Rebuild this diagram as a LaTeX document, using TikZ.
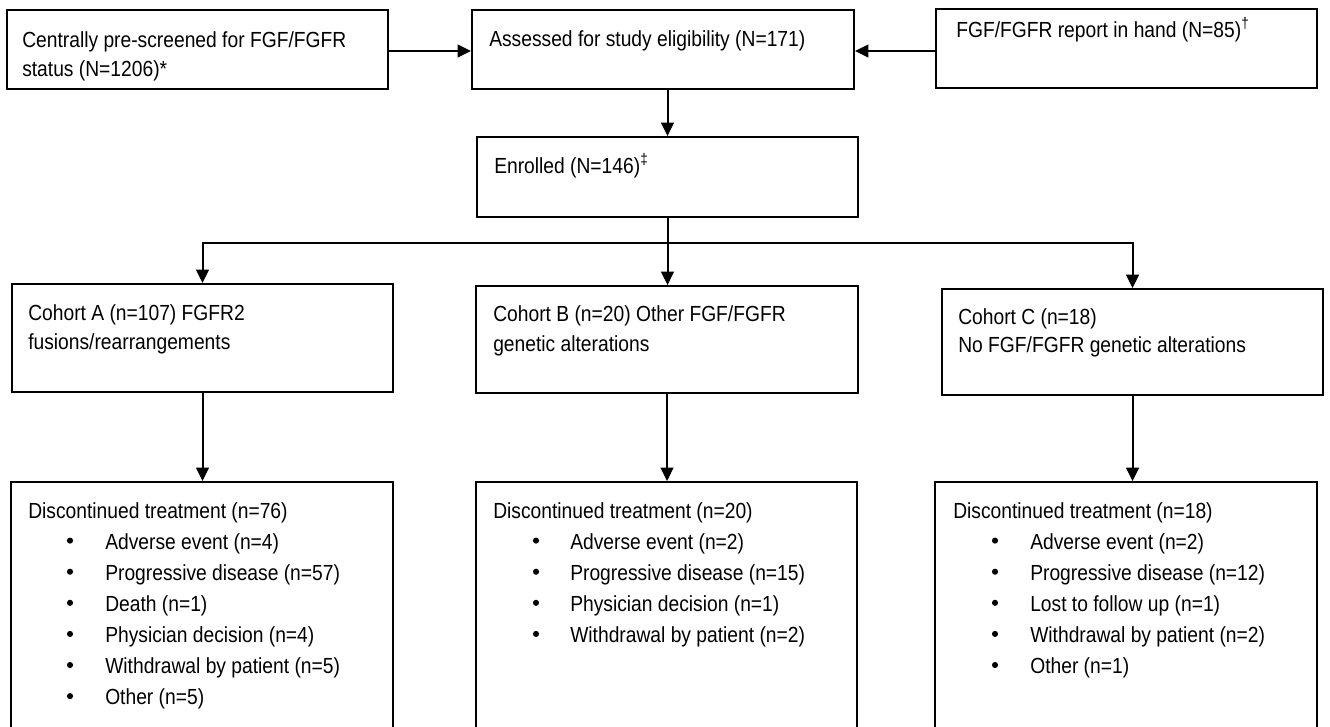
\documentclass[tikz,border=0pt]{standalone}
\usepackage{fontspec}
\setmainfont{Liberation Sans}[FakeStretch=0.88]
\usetikzlibrary{arrows.meta,fit}
\begin{document}
\begin{tikzpicture}[x=0.75pt,y=-0.75pt,
  box/.style={draw=black, line width=1.4pt, inner sep=0pt},
  arr/.style={line width=1.5pt, -{Triangle[length=10pt,width=9.5pt]}},
  txt/.style={inner sep=0pt, anchor=base west, font=\fontsize{16.4}{19}\selectfont},
  dot/.style={circle, fill=black, draw=none, inner sep=0pt, minimum size=4.6pt}]
\clip (0,0) rectangle (1330,726);
\fill[white] (0,0) rectangle (1330,726);

% boxes
\node[box, fit={(7,10)(388,89)}] (b1) {};
\node[box, fit={(472,10)(854,89)}] (b2) {};
\node[box, fit={(936,9)(1317,88)}] (b3) {};
\node[box, fit={(477,137)(858,217)}] (en) {};
\node[box, fit={(12,284)(393,392)}] (cA) {};
\node[box, fit={(476,286)(858,393)}] (cB) {};
\node[box, fit={(942,289)(1323,395)}] (cC) {};
\node[box, fit={(11,482)(393,770)}] (dA) {};
\node[box, fit={(476,482)(857,770)}] (dB) {};
\node[box, fit={(935,482)(1317,770)}] (dC) {};

% texts
\node[txt] (t1a) at (22,47) {Centrally pre-screened for FGF/FGFR};
\node[txt] (t1b) at (22,76) {status (N=1206)*};
\node[txt] (t2) at (489,46) {Assessed for study eligibility (N=171)};
\node[txt] (t3) at (956,37) {FGF/FGFR report in hand (N=85)\textsuperscript{†}};
\node[txt] (ten) at (494,173) {Enrolled (N=146)\textsuperscript{‡}};
\node[txt] (tAa) at (28,320) {Cohort A (n=107) FGFR2};
\node[txt] (tAb) at (28,349) {fusions/rearrangements};
\node[txt] (tBa) at (493,321) {Cohort B (n=20) Other FGF/FGFR};
\node[txt] (tBb) at (493,351) {genetic alterations};
\node[txt] (tCa) at (958,324) {Cohort C (n=18)};
\node[txt] (tCb) at (958,352) {No FGF/FGFR genetic alterations};

\node[txt] (hA) at (28,518) {Discontinued treatment (n=76)};
\foreach \t [count=\i] in {Adverse event (n=4), Progressive disease (n=57), Death (n=1), Physician decision (n=4), Withdrawal by patient (n=5), Other (n=5)}{
  \node[dot] (bA\i) at (70,509.5+31.1*\i) {};
  \node[txt] (iA\i) at (105,518+31.1*\i) {\t};
}
\node[txt] (hB) at (493,518) {Discontinued treatment (n=20)};
\foreach \t [count=\i] in {Adverse event (n=2), Progressive disease (n=15), Physician decision (n=1), Withdrawal by patient (n=2)}{
  \node[dot] (bB\i) at (536,509.5+31.1*\i) {};
  \node[txt] (iB\i) at (570,518+31.1*\i) {\t};
}
\node[txt] (hC) at (953,518) {Discontinued treatment (n=18)};
\foreach \t [count=\i] in {Adverse event (n=2), Progressive disease (n=12), Lost to follow up (n=1), Withdrawal by patient (n=2), Other (n=1)}{
  \node[dot] (bC\i) at (995,509.5+31.1*\i) {};
  \node[txt] (iC\i) at (1030,518+31.1*\i) {\t};
}

% connectors
\coordinate (ya) at (0,51);
\coordinate (yb) at (0,243);
\draw[arr] (b1.east |- ya) -- (b2.west |- ya);
\draw[arr] (b3.west |- ya) -- (b2.east |- ya);
\draw[arr] (en.north |- b2.south) -- (en.north);
\draw[arr] (en.south) -- (en.south |- cB.north);
\draw[arr] (en.south |- yb) -| (cA.north);
\draw[arr] (en.south |- yb) -| (cC.north);
\draw[arr] (cA.south) -- (cA.south |- dA.north);
\draw[arr] (cB.south) -- (cB.south |- dB.north);
\draw[arr] (cC.south) -- (cC.south |- dC.north);
\end{tikzpicture}
\end{document}
